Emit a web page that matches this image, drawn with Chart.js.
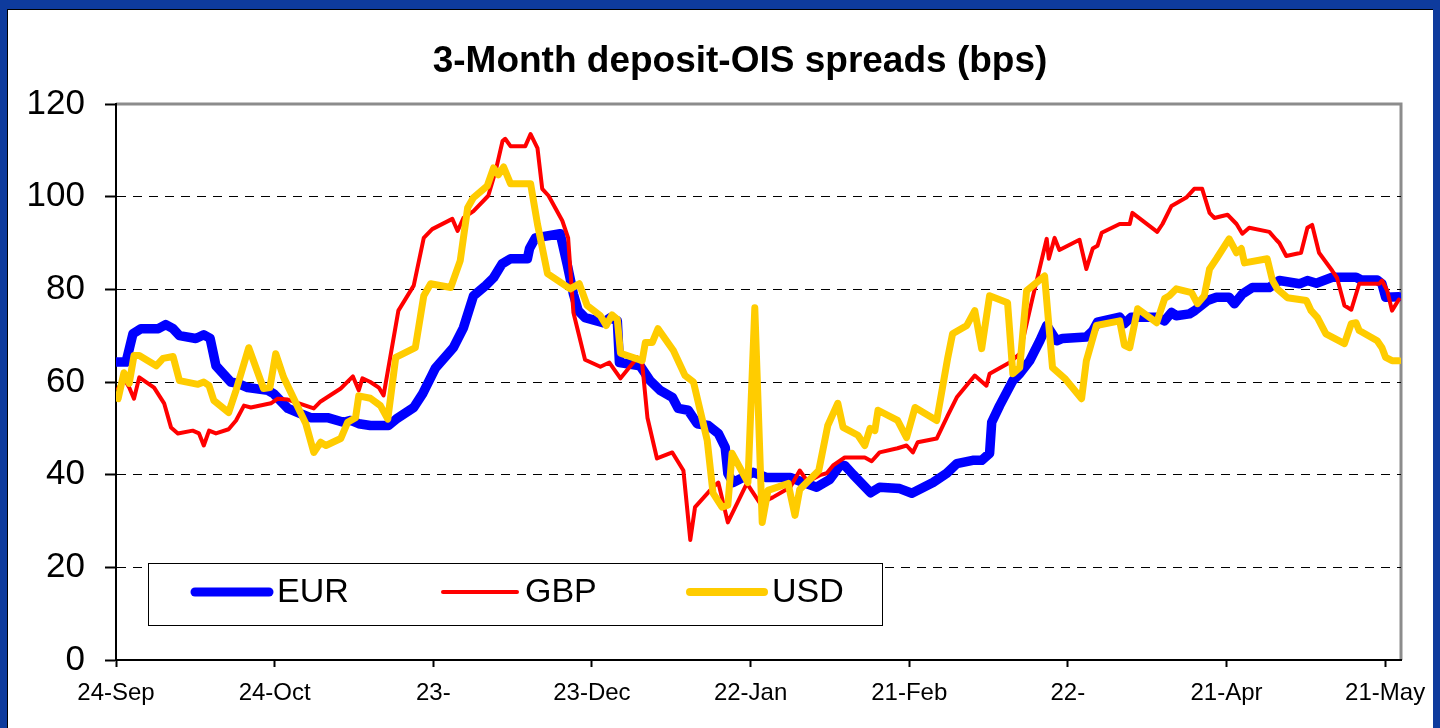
<!DOCTYPE html>
<html><head><meta charset="utf-8">
<script src="https://cdn.jsdelivr.net/npm/chart.js@4.4.1/dist/chart.umd.min.js"></script>
<style>
html,body{margin:0;padding:0;width:1440px;height:728px;overflow:hidden;background:#0e3b9d;}
#panel{position:absolute;left:7px;top:9px;width:1426px;height:719px;background:#fff;border-left:1px solid #000;border-top:1px solid #000;box-sizing:border-box;}
#c{position:absolute;left:0;top:0;}
</style></head><body>
<div id="panel"></div>
<canvas id="c" width="1440" height="728"></canvas>
<script>
// ---- data (x = days since 24-Sep) ----
const chartTitle = '3-Month deposit-OIS spreads (bps)';
const seriesNames = ['EUR', 'GBP', 'USD'];
const tickDays = [0, 30, 60, 90, 120, 150, 180, 210, 240];
const tickLabels = ['24-Sep', '24-Oct', '23-', '23-Dec', '22-Jan', '21-Feb', '22-', '21-Apr', '21-May'];
const yTicks = [0, 20, 40, 60, 80, 100, 120];

const eurDays = [0,1.9,3.2,4.7,8,9.4,10.8,12,15.1,16.6,17.8,18.9,21.7,23,24.9,28.7,29.8,32.5,34.4,36.8,40,43,44.4,45.9,48.1,51.5,53,56.3,58,60.4,63.8,65.7,67.6,69.9,71.4,73,74.6,77.8,78.2,79.3,84,85.3,86.5,87.4,88.7,92.1,93.5,94.8,95.2,99.1,101,102.9,105.2,106.3,108.2,109.9,112,113.9,115.2,115.7,116.7,120.5,123,127.5,130,132.5,135,136.9,137.8,139.4,142.7,144.4,148.2,150.5,154.5,157.1,159,162,163.7,165.2,165.6,167.1,169.6,170.9,172.8,174.7,176,177.9,179,183.5,184.7,185.6,189.8,190.7,192,196.8,198.3,199.6,200.5,203,204,206.4,208.1,210.5,211.5,213,214.9,218.1,220,223.8,225.3,227,230,234.5,235.5,238.5,239.4,240.1,242.6];
const eurValues = [64.3,64.3,70.4,71.5,71.5,72.4,71.5,70,69.4,70.2,69.4,63.5,60,59.7,58.8,58.2,57.5,54.3,53.4,52.3,52.3,51.3,51.7,51,50.6,50.6,52,54.5,57.5,63,67.4,71.7,78.6,80.8,82.5,85.5,86.6,86.6,88.8,91.1,92,85.5,79,75.4,73.9,72.8,73.9,73.2,64.2,63.5,60.3,58.2,56.7,54.3,53.9,51,50.6,48.9,45.9,40.3,38.3,40.5,39.4,39.4,38.3,37.3,39,42,42,40,36.1,37.3,37,36,38.3,40.3,42.4,43.1,43.1,44.6,51.3,54.9,60.3,61.8,64.6,68.9,72.2,68.9,69.4,69.7,71,72.9,74,72.6,74,74,73.2,75,74.3,74.7,75.4,77.6,78.3,78.3,76.9,79,80.4,80.4,81.9,81.2,81.9,81.3,82.6,82.6,82,82,81.2,78.3,78.4];

const gbpDays = [0.4,1.5,2.5,3.4,4.4,7.2,9.1,10.4,11.7,14.5,15.7,16.6,17.6,18.9,21.3,22.7,24.2,25.5,29.3,30.6,32.5,34.6,37.4,38.7,42.5,44.8,45.9,46.6,48.1,49.7,50.6,53.4,56.3,58.2,59.8,63.6,64.6,65.7,67.6,70.4,71.8,73.1,73.6,74.6,77.4,78.4,79.7,80.6,81.8,84.4,85.5,86.5,88.7,91.6,93.3,95.4,98.6,99.5,100.5,102.3,105.2,107.3,108.6,109.5,112.9,113.9,115.7,119.3,121.8,124.2,127.5,129.3,130.8,133.1,134.4,135.6,137.8,141.6,142.9,144.4,147.8,149.5,150.7,151.6,155.2,157.3,159,162.4,164.6,165.2,169,170.9,173.3,176,176.4,177.5,178.4,182.2,183.5,184.7,185.6,186.4,189.8,191.7,192.2,196.9,197.9,199.6,202.4,203.9,205.4,206.8,207.7,210.2,211.9,213,214.3,218.1,219.4,220,221.3,224.1,225.3,226.2,227.5,230,230.9,232.3,233.6,235.1,238.9,239.4,240.4,241.3,242.6];
const gbpValues = [58.6,60.8,58.8,56.4,61,58.8,55.4,50.2,48.9,49.5,48.9,46.3,49.5,48.9,49.8,51.7,54.9,54.5,55.4,56.4,56.2,55.4,54.3,55.8,58.6,61.2,58.2,60.8,60,58.8,57.1,75.4,80.8,91.1,93,95.2,92.6,95.4,96.9,100.2,105.6,112,112.5,110.9,110.9,113.5,110.5,101.7,100.2,94.8,91.1,75,64.8,63.3,64.2,60.8,65.3,64,52.3,43.5,44.8,40.9,25.9,33,37.3,38.3,29.7,38.1,33.8,35.1,37.3,40.9,38.5,39.9,40.3,42,43.7,43.7,42.9,44.8,45.7,46.3,44.8,47,47.8,52.8,56.7,61.4,59.2,61.8,64.2,66.1,78,90.9,86.6,91.1,88.5,90.7,84.4,88.8,89.4,92.2,94.1,94.1,96.5,92.4,94.1,98,99.8,101.7,101.7,96.5,95.4,96.1,94.1,92,93.3,92.4,90.7,90,87.2,87.9,93.3,93.9,87.9,84,82.5,76.5,75.6,81.2,81.2,81.9,79.7,75.4,77.8];

const usdDays = [0.4,1.5,2.5,3.4,4.4,7.6,8.9,10.8,12,15.5,16.6,17.6,18.5,21.3,22.7,25.1,27.9,29.1,30.2,31.7,35.9,37.4,38.7,39.7,42.5,43.8,45.3,45.9,48.1,50,51.4,52.9,56.6,58.2,59.5,63.3,65.1,66.5,67.6,70.2,71.4,72.3,73.3,74.6,78.4,79.7,81.6,85.9,87.6,89.1,91.6,92.7,93.8,94.8,95.4,99.5,100.1,101.4,102.5,105.4,107.6,109.2,111.8,112.9,114.6,115.7,116.5,119.5,120.8,122.2,123.3,127.1,128.4,129.3,132.9,134.6,136.5,137.5,140.3,141.6,142.6,143.5,144.1,147.8,149.5,151.1,155.2,157.3,158.2,160.9,162.4,163.7,165.2,168.6,169.6,170.9,172.2,175.6,177.1,179.4,182.6,183.5,185.4,189.8,190.7,191.7,193.2,196.8,198.3,199.2,200.5,203.4,204.5,205.8,206.8,208.1,210.5,211.9,212.8,213.4,217.7,218.7,219.6,221.5,225.1,226,227.2,228.8,232.3,233.6,234.5,235.1,238.5,239.4,240.1,241.3,242.6];
const usdValues = [56.4,62,59.7,65.7,65.7,63.5,65.1,65.5,60.3,59.5,60,59.2,56,53.4,58.2,67.4,58.6,58.8,66.1,61,51,44.8,47,46.3,47.8,51.3,52.3,57,56.5,54.9,52,65.3,67.4,78.6,81.2,80.4,86.2,97.6,99.8,102.3,106.2,104.7,106.4,102.8,102.8,94.1,83.4,80.1,81.2,76.5,74.3,72.2,74.5,73.5,66.2,64.6,68.5,68.5,71.5,66.8,61.4,60,47.4,36,33,33.4,44.6,38.3,76,29.7,36.6,38.1,31.2,36.8,40.9,50.6,55.4,50.2,48.5,46.3,50,49.5,53.9,51.7,48,54.5,51.7,65.3,70.4,72.2,75.4,67.2,78.6,77.1,61.8,63.1,79.7,82.9,63.1,60.8,56.4,64.6,72.2,73.2,67.9,67.4,75.8,72.8,78,78.6,80.1,79.3,76.9,78.6,84.4,86.6,90.9,87.9,88.8,85.7,86.6,81.9,80.1,78.2,77.6,75.4,73.9,70.4,68.3,72.6,72.8,71.1,68.9,67.4,65.3,64.6,64.6];

// ---- chart ----
const FONT = "'Liberation Sans', Arial, sans-serif";
Chart.defaults.font.family = FONT;
const pts = (xs, ys) => xs.map((x, i) => ({x: x, y: ys[i]}));

const framePlugin = {
  id: 'frame',
  beforeDraw(chart) {
    const a = chart.chartArea, c = chart.ctx;
    c.save();
    c.strokeStyle = '#8c8c8c'; c.lineWidth = 3;
    c.beginPath();
    c.moveTo(a.left, a.top); c.lineTo(a.right, a.top); c.lineTo(a.right, a.bottom);
    c.stroke();
    c.restore();
  }
};
const titlePlugin = {
  id: 'ttl',
  afterDraw(chart) {
    const c = chart.ctx;
    c.save();
    c.font = 'bold 37px ' + FONT;
    c.fillStyle = '#000'; c.textAlign = 'center'; c.textBaseline = 'middle';
    c.fillText(chartTitle, 740, 62);
    c.restore();
  }
};
const legendPlugin = {
  id: 'lgd',
  afterDatasetsDraw(chart) {
    const c = chart.ctx;
    const bx = 148, by = 563, bw = 734, bh = 62;
    c.save();
    c.fillStyle = '#fff'; c.fillRect(bx, by, bw, bh);
    c.strokeStyle = '#000'; c.lineWidth = 1; c.strokeRect(bx + 0.5, by + 0.5, bw, bh);
    const starts = [195, 443, 690];
    const widths = [9, 4, 8];
    chart.data.datasets.forEach((ds, i) => {
      const x0 = starts[i], yy = 592;
      c.strokeStyle = ds.borderColor; c.lineWidth = widths[i]; c.lineCap = 'round';
      c.beginPath(); c.moveTo(x0, yy); c.lineTo(x0 + 74, yy); c.stroke();
      c.fillStyle = '#000'; c.font = '34px ' + FONT; c.textAlign = 'left'; c.textBaseline = 'middle';
      c.fillText(ds.label, x0 + 82, yy + 1);
    });
    c.restore();
  }
};

new Chart(document.getElementById('c').getContext('2d'), {
  type: 'line',
  data: {
    datasets: [
      {label: seriesNames[0], data: pts(eurDays, eurValues), borderColor: '#0000ff', borderWidth: 9.5, order: 3},
      {label: seriesNames[1], data: pts(gbpDays, gbpValues), borderColor: '#ff0000', borderWidth: 4, order: 2},
      {label: seriesNames[2], data: pts(usdDays, usdValues), borderColor: '#ffcc00', borderWidth: 7, order: 1}
    ]
  },
  options: {
    responsive: false, animation: false, devicePixelRatio: 1,
    layout: {padding: {top: 104, right: 39, left: 0, bottom: 0}},
    plugins: {legend: {display: false}, tooltip: {enabled: false}, title: {display: false}},
    elements: {point: {radius: 0}, line: {tension: 0, borderJoinStyle: 'round', borderCapStyle: 'round', fill: false}},
    scales: {
      x: {
        type: 'linear', min: 0, max: 243,
        afterBuildTicks: s => { s.ticks = tickDays.map(v => ({value: v})); },
        ticks: {callback: v => { const i = tickDays.indexOf(v); return i >= 0 ? tickLabels[i] : ''; },
                font: {size: 24}, color: '#000', padding: 12, maxRotation: 0, autoSkip: false},
        grid: {drawOnChartArea: false, drawTicks: true, tickLength: 7, tickColor: '#000', tickWidth: 2},
        border: {display: true, color: '#000', width: 2},
        afterFit: s => { s.height = 68; }
      },
      y: {
        min: 0, max: 120,
        afterBuildTicks: s => { s.ticks = yTicks.map(v => ({value: v})); },
        ticks: {font: {size: 35}, color: '#000', padding: 20},
        grid: {color: c => (c.tick && (c.tick.value === 0 || c.tick.value === 120)) ? 'rgba(0,0,0,0)' : '#000',
               lineWidth: 1, tickColor: '#000', tickLength: 11, tickWidth: 2},
        border: {display: true, color: '#000', width: 2, dash: [9, 7]},
        afterFit: s => { s.width = 116; }
      }
    }
  },
  plugins: [framePlugin, legendPlugin, titlePlugin]
});
</script></body></html>
